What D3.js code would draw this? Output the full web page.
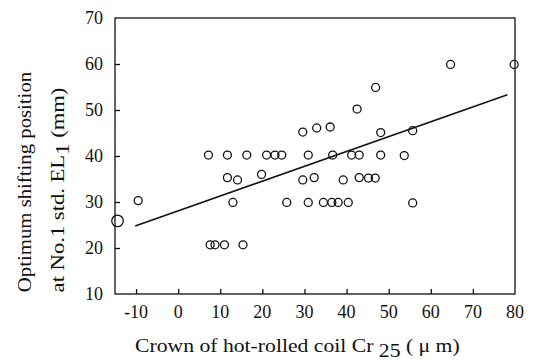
<!DOCTYPE html>
<html>
<head>
<meta charset="utf-8">
<script src="https://cdn.jsdelivr.net/npm/d3@7"></script>
<style>
  body { margin: 0; background: #fff; }
  text { font-family: "Liberation Serif", "DejaVu Serif", serif; fill: #111; }
</style>
</head>
<body>
<div id="chart"></div>
<script>
// crown of hot-rolled coil Cr25 (um)
const crown = [-14.4, -9.5, 7.2, 11.7, 16.3, 21.0, 23.0, 24.6, 30.9, 36.7, 41.2, 43.0, 48.1, 53.7,
  11.7, 14.1, 13.0, 19.8, 29.6, 32.3, 39.2, 43.0, 45.2, 46.8,
  7.6, 8.75, 11.0, 15.4, 25.8, 30.9, 34.5, 36.5, 38.0, 40.4, 55.7,
  29.6, 32.9, 36.1, 48.1, 55.7, 42.5, 46.9, 64.7, 79.8];
// optimum shifting position at No.1 std. EL1 (mm)
const shift = [25.9, 30.3, 40.2, 40.2, 40.2, 40.2, 40.2, 40.2, 40.2, 40.2, 40.2, 40.2, 40.2, 40.1,
  35.3, 34.8, 29.9, 36.0, 34.8, 35.3, 34.8, 35.3, 35.2, 35.2,
  20.7, 20.7, 20.7, 20.7, 29.9, 29.9, 29.9, 29.9, 29.9, 29.9, 29.8,
  45.2, 46.1, 46.3, 45.1, 45.5, 50.2, 54.9, 59.9, 59.9];
// coinciding observations
const counts = crown.map((c, i) => i === 0 ? 2 : 1);

// regression line end points
const fitX = [-10.2, 78.2];
const fitY = [24.8, 53.3];

const xTicks = [-10, 0, 10, 20, 30, 40, 50, 60, 70, 80];
const yTicks = [10, 20, 30, 40, 50, 60, 70];

const width = 533, height = 360;
const margin = { left: 115, right: 18, top: 18, bottom: 66 };

const svg = d3.select('#chart').append('svg')
  .attr('width', width)
  .attr('height', height);

const x = d3.scaleLinear().domain([-15, 80]).range([margin.left, width - margin.right]);
const y = d3.scaleLinear().domain([10, 70]).range([height - margin.bottom, margin.top]);

// frame
svg.append('rect')
  .attr('x', x(-15)).attr('y', y(70))
  .attr('width', x(80) - x(-15)).attr('height', y(10) - y(70))
  .attr('fill', 'none').attr('stroke', '#111').attr('stroke-width', 1.3);

// axes with inward ticks
svg.append('g')
  .attr('transform', `translate(0,${y(10)})`)
  .call(d3.axisBottom(x).tickValues(xTicks.filter(t => t < 80)).tickSize(-5).tickFormat(''))
  .call(g => g.select('.domain').remove())
  .call(g => g.selectAll('line').attr('stroke', '#111').attr('stroke-width', 1.3));

svg.append('g')
  .attr('transform', `translate(${x(-15)},0)`)
  .call(d3.axisLeft(y).tickValues(yTicks.filter(t => t > 10 && t < 70)).tickSize(-5).tickFormat(''))
  .call(g => g.select('.domain').remove())
  .call(g => g.selectAll('line').attr('stroke', '#111').attr('stroke-width', 1.3));

// tick labels
svg.selectAll('.xlab').data(xTicks).enter().append('text')
  .attr('class', 'xlab')
  .attr('x', d => x(d))
  .attr('y', y(10) + 24)
  .attr('text-anchor', 'middle')
  .attr('font-size', 18)
  .text(d => d);

svg.selectAll('.ylab').data(yTicks).enter().append('text')
  .attr('class', 'ylab')
  .attr('x', x(-15) - 12)
  .attr('y', d => y(d) + 6)
  .attr('text-anchor', 'end')
  .attr('font-size', 18)
  .text(d => d);

// fitted line
const line = d3.line().x(d => x(d[0])).y(d => y(d[1]));
svg.append('path')
  .datum(d3.zip(fitX, fitY))
  .attr('d', line)
  .attr('fill', 'none')
  .attr('stroke', '#111')
  .attr('stroke-width', 1.6);

// points
const r = d3.scaleSqrt().domain([1, 2]).range([4, 5.8]);
svg.selectAll('.dot')
  .data(crown.map((c, i) => ({ c, s: shift[i], n: counts[i] })))
  .enter().append('circle')
  .attr('class', 'dot')
  .attr('cx', d => x(d.c))
  .attr('cy', d => y(d.s))
  .attr('r', d => r(d.n))
  .attr('fill', 'none')
  .attr('stroke', '#111')
  .attr('stroke-width', 1.3);

// stretch a text element horizontally to a given length (scanned lettering is wide)
function stretch(t, len, tx, ty, rot) {
  const w = t.node().getBBox().width;
  t.attr('transform', `translate(${tx},${ty}) rotate(${rot}) scale(${len / w},1)`);
}

// axis titles
const xt = svg.append('text').attr('font-size', 19);
xt.append('tspan').text('Crown of hot-rolled coil  Cr ');
xt.append('tspan').attr('dy', 5).text('25');
xt.append('tspan').attr('dy', -5).text(' ( \u03bc m)');
stretch(xt, 325, 135, 352, 0);

const yt1 = svg.append('text')
  .attr('text-anchor', 'middle')
  .attr('font-size', 19)
  .text('Optimum shifting position');
stretch(yt1, 221, 31, 182, -90);

const yt2 = svg.append('text')
  .attr('text-anchor', 'middle')
  .attr('font-size', 19);
yt2.append('tspan').text('at No.1 std. EL');
yt2.append('tspan').attr('dy', 5).text('1');
yt2.append('tspan').attr('dy', -5).text('   (mm)');
stretch(yt2, 205, 64, 190, -90);
</script>
</body>
</html>
